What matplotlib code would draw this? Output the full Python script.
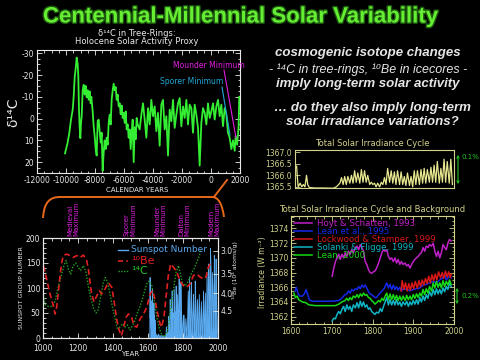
import matplotlib
matplotlib.use('Agg')
import matplotlib.pyplot as plt
from matplotlib.path import Path
from matplotlib.patches import PathPatch
from matplotlib.ticker import MultipleLocator, FixedLocator, NullLocator, FixedFormatter
import matplotlib.patheffects as pe

plt.rcParams['axes.unicode_minus'] = False
plt.rcParams['font.family'] = ['DejaVu Sans']

# ---------------- data ----------------
# Holocene delta-14C (permil), plotted inverted
holo_year = [-10069, -9885, -9770, -9655, -9540, -9470, -9402, -9333, -9264, -9195, -9150, -9104, -9058, -9011,
             -8965, -8920, -8850, -8780, -8712, -8643, -8575, -8505, -8437, -8368, -8299, -8253, -8161, -8092,
             -8023, -7954, -7885, -7816, -7747, -7678, -7609, -7540, -7471, -7402, -7333, -7264, -7195, -7126,
             -7057, -6988, -6919, -6850, -6781, -6712, -6643, -6574, -6505, -6436, -6367, -6298, -6229, -6160,
             -6091, -6022, -5953, -5884, -5815, -5747, -5678, -5609, -5540, -5471, -5402, -5333, -5264, -5195,
             -5126, -5057, -4919, -4804, -4689, -4574, -4459, -4344, -4229, -4114, -3999, -3884, -3770, -3655,
             -3540, -3425, -3310, -3195, -3080, -2965, -2850, -2735, -2620, -2505, -2390, -2275, -2160, -2045,
             -1930, -1815, -1700, -1586, -1471, -1356, -1241, -1126, -1011, -896, -781, -666, -551, -436, -321,
             -206, -91, 24, 139, 254, 369, 484, 598, 714, 828, 943, 1058, 1173, 1288, 1403, 1518, 1633, 1700,
             1800, 1900, 1950]
holo_d14c = [16, 11, 6.5, 0.5, -4, -10, -19, -23, -28, -25, -19, -4, 4, 9,
             2, -1, -13, -15.5, -11, -15, -9.8, -13, -8.6, -12.5, -7, -10, -3.3, 3.5,
             8, 14, 17, 1.2, 0.5, 5.8, 11, 6.5, 24, 15.6, 10, 14, 8.8, 12,
             2, -1.8, 2.7, -8.6, -13, -16, -13, -14.5, -8.6, -11, -5.6, -7, -2, -6,
             -0.3, -2.6, 2, -3.3, 5, 2.7, 8.8, 5, 14, 6.5, 0.5, 20, 4, 9.5,
             -0.3, 2.7, 5, -1.8, -7, 0.5, 8.8, -4.8, 2.7, -8.6, -1.1, -5.6, 5.8, -2.6,
             12.5, -6.4, -8.6, 5, -1.1, 17, -4.1, 1.2, -8.6, 4.3, -1.8, -7, -9.4, 3.5,
             -5.6, -0.3, -8.6, 2.7, -6.4, -4.8, 6.5, -6.4, -1.8, 4.3, 21.6, 2, -4.8, -2.6, 2.7,
             -7, -0.3, -3.3, -7, 0.45, -5.6, -8.6, -1.1, -6.4, 3.5, -4.8, -1.8, 6.5, 8.8, 14, 10, 14.8, 8,
             12, 4, -10]

# Total solar irradiance cycle (W m-2)
tsi_year = [1604, 1606, 1608, 1613, 1617, 1621, 1625, 1629, 1632, 1636, 1650, 1670, 1696, 1704, 1713,
            1717, 1721, 1725, 1729, 1733, 1738, 1742, 1746, 1750, 1754, 1758, 1763, 1767, 1771, 1775,
            1779, 1783, 1788, 1792, 1796, 1800, 1804, 1808, 1813, 1817, 1821, 1825, 1829, 1833, 1838,
            1842, 1846, 1850, 1854, 1858, 1863, 1867, 1871, 1875, 1879, 1883, 1888, 1892, 1896, 1900,
            1904, 1908, 1913, 1917, 1921, 1925, 1929, 1933, 1938, 1942, 1946, 1950, 1954, 1958, 1963,
            1967, 1971, 1975, 1979, 1983, 1988, 1992, 1996]
tsi_val = [1366.4, 1365.9, 1365.5, 1365.66, 1365.5, 1365.6, 1365.5, 1366.0, 1365.6, 1365.47, 1365.45,
           1365.45, 1365.44, 1365.5, 1365.66, 1365.9, 1365.6, 1365.95, 1365.6, 1365.95, 1365.66, 1366.0,
           1365.66, 1366.2, 1365.7, 1366.1, 1365.66, 1366.25, 1365.7, 1366.2, 1365.7, 1366.0, 1365.6,
           1365.7, 1365.6, 1365.66, 1365.5, 1365.66, 1365.5, 1365.7, 1365.6, 1365.9, 1365.6, 1366.3,
           1365.7, 1366.2, 1365.66, 1366.15, 1365.6, 1366.2, 1365.6, 1366.15, 1365.6, 1365.95, 1365.56,
           1366.1, 1365.56, 1365.95, 1365.5, 1366.2, 1365.6, 1366.2, 1365.6, 1366.25, 1365.66, 1366.3,
           1365.66, 1366.25, 1365.7, 1366.35, 1365.7, 1366.44, 1365.7, 1366.6, 1365.66, 1366.3, 1365.7,
           1366.7, 1365.7, 1366.6, 1365.66, 1366.7, 1365.6]

# Irradiance reconstructions (W m-2)
hs_year = [1701, 1705, 1709, 1713, 1717, 1721, 1725, 1729, 1733, 1737, 1741, 1745, 1749, 1753, 1758, 1762,
           1766, 1770, 1774, 1778, 1782, 1786, 1790, 1794, 1798, 1802, 1806, 1810, 1815, 1819, 1823, 1827,
           1831, 1835, 1839, 1843, 1847, 1851, 1855, 1859, 1863, 1867, 1871, 1875, 1880, 1884, 1888, 1892,
           1896, 1900, 1904, 1908, 1912, 1916, 1920, 1924, 1928, 1932, 1936, 1940, 1945, 1949, 1953, 1957,
           1961, 1965, 1969, 1973, 1977, 1981, 1985, 1989, 1993]
hs_val = [1367.5, 1368.6, 1369.5, 1370.0, 1370.5, 1369.8, 1370.5, 1370.0, 1370.7, 1370.2, 1370.9, 1370.5,
          1371.1, 1370.7, 1371.4, 1371.6, 1371.1, 1371.8, 1371.4, 1370.9, 1369.5, 1369.1, 1368.4, 1368.0,
          1367.9, 1368.1, 1368.2, 1368.6, 1369.3, 1370.0, 1370.7, 1371.1, 1370.9, 1371.1, 1370.2, 1369.8,
          1370.0, 1369.5, 1370.0, 1369.3, 1369.8, 1369.1, 1369.5, 1369.1, 1369.3, 1368.9, 1369.1, 1368.6,
          1369.1, 1369.5, 1369.8, 1370.0, 1370.2, 1370.5, 1370.7, 1371.4, 1370.9, 1371.6, 1371.4, 1371.8,
          1371.6, 1372.0, 1370.9, 1370.2, 1370.9, 1370.0, 1370.7, 1371.8, 1371.4, 1371.1, 1372.0, 1372.5,
          1372.3]

lean95_year = [1610, 1613, 1617, 1621, 1628, 1633, 1637, 1641, 1645, 1652, 1668, 1684, 1701, 1717, 1725,
               1729, 1733, 1737, 1741, 1745, 1749, 1753, 1758, 1762, 1766, 1770, 1774, 1778, 1782, 1786,
               1790, 1794, 1798, 1802, 1806, 1810, 1815, 1819, 1823, 1827, 1831, 1835, 1839, 1843, 1847,
               1851, 1855, 1859, 1863, 1867, 1871, 1875, 1884, 1892, 1900, 1908, 1916, 1924, 1932, 1940,
               1949, 1957, 1965, 1973, 1977, 1981, 1989, 1993]
lean95_val = [1365.5, 1366.0, 1365.2, 1364.8, 1364.8, 1365.1, 1365.7, 1365.0, 1364.3, 1364.1, 1364.1,
              1364.1, 1364.1, 1364.2, 1364.5, 1364.8, 1365.0, 1365.1, 1365.5, 1365.2, 1365.7, 1365.5,
              1365.8, 1365.7, 1366.1, 1365.8, 1366.3, 1366.0, 1366.3, 1365.9, 1365.4, 1365.1, 1365.0,
              1364.8, 1364.6, 1364.6, 1365.0, 1365.2, 1365.5, 1365.7, 1366.1, 1366.6, 1365.9, 1366.4,
              1365.7, 1366.3, 1365.7, 1366.1, 1365.6, 1366.0, 1365.5, 1365.8, 1365.7, 1365.5, 1365.7,
              1365.8, 1365.9, 1366.3, 1366.4, 1366.6, 1366.8, 1366.6, 1367.0, 1367.3, 1367.7, 1367.0,
              1367.5, 1367.3]

lock_year = [1870, 1873, 1877, 1881, 1885, 1889, 1893, 1897, 1901, 1905, 1910, 1914, 1918, 1922, 1926,
             1930, 1934, 1938, 1942, 1946, 1950, 1954, 1958, 1962, 1967, 1971, 1975, 1979, 1983, 1987,
             1991, 1993]
lock_val = [1365.5, 1366.9, 1365.7, 1366.6, 1365.5, 1366.5, 1365.6, 1366.6, 1365.8, 1366.8, 1365.9,
            1366.9, 1366.1, 1367.0, 1366.3, 1367.2, 1366.5, 1367.5, 1366.6, 1367.7, 1366.9, 1367.8,
            1367.0, 1368.1, 1367.3, 1368.0, 1367.2, 1368.2, 1367.4, 1368.1, 1367.3, 1367.8]

sol_year = [1701, 1705, 1709, 1713, 1717, 1721, 1725, 1729, 1733, 1737, 1741, 1745, 1749, 1753, 1758,
            1762, 1766, 1770, 1774, 1778, 1782, 1786, 1790, 1794, 1798, 1802, 1806, 1810, 1815, 1819,
            1823, 1827, 1831, 1835, 1839, 1843, 1847, 1851, 1855, 1859, 1863, 1867, 1871, 1875, 1880,
            1884, 1888, 1892, 1896, 1900, 1904, 1908, 1912, 1916, 1920, 1924, 1928, 1932, 1936, 1940,
            1945, 1949, 1953, 1957, 1961, 1965, 1969, 1973, 1977, 1981, 1985, 1989, 1993]
sol_val = [1361.4, 1361.8, 1361.7, 1362.3, 1362.7, 1362.4, 1363.0, 1363.4, 1362.7, 1363.6, 1363.0, 1363.4,
           1362.7, 1363.6, 1363.2, 1363.9, 1363.2, 1364.1, 1363.4, 1364.0, 1363.3, 1363.6, 1363.0, 1363.2,
           1362.7, 1362.5, 1362.3, 1362.6, 1362.5, 1363.1, 1362.7, 1363.4, 1364.0, 1364.6, 1363.6, 1364.3,
           1363.6, 1364.2, 1363.6, 1364.3, 1363.6, 1364.0, 1363.4, 1364.0, 1363.6, 1364.1, 1363.4, 1364.0,
           1363.6, 1364.2, 1363.7, 1364.3, 1363.7, 1364.6, 1364.0, 1364.8, 1364.2, 1365.0, 1364.5, 1365.4,
           1364.8, 1365.7, 1365.0, 1365.8, 1365.1, 1365.7, 1365.1, 1365.9, 1365.4, 1366.1, 1365.7, 1366.6,
           1366.1]

lean00_year = [1607, 1611, 1615, 1619, 1628, 1636, 1644, 1660, 1676, 1693, 1709, 1717, 1725, 1733, 1737,
               1741, 1745, 1749, 1753, 1758, 1762, 1766, 1770, 1774, 1778, 1782, 1786, 1790, 1794, 1798,
               1802, 1806, 1810, 1815, 1819, 1823, 1827, 1831, 1835, 1839, 1843, 1847, 1851, 1855, 1859,
               1863, 1867, 1871, 1875, 1880, 1884, 1888, 1892, 1896, 1900, 1904, 1908, 1912, 1916, 1920,
               1924, 1928, 1932, 1936, 1940, 1945, 1949, 1953, 1957, 1961, 1965, 1969, 1973, 1977, 1981,
               1985, 1989, 1993]
lean00_val = [1365.2, 1364.6, 1364.8, 1364.3, 1364.0, 1363.9, 1363.6, 1363.5, 1363.5, 1363.5, 1363.5,
              1363.7, 1364.0, 1364.2, 1364.5, 1364.2, 1364.6, 1364.3, 1364.8, 1364.6, 1365.0, 1364.6,
              1365.1, 1364.8, 1365.2, 1364.9, 1365.0, 1364.6, 1364.5, 1364.2, 1364.0, 1363.7, 1363.9,
              1364.2, 1364.0, 1364.5, 1364.2, 1364.8, 1365.2, 1364.3, 1365.1, 1364.3, 1365.0, 1364.3,
              1364.9, 1364.2, 1364.8, 1364.2, 1364.8, 1364.2, 1364.9, 1364.3, 1364.8, 1364.3, 1365.0,
              1364.5, 1365.1, 1364.6, 1365.2, 1364.8, 1365.7, 1365.0, 1365.8, 1365.2, 1366.1, 1365.5,
              1366.6, 1365.9, 1366.8, 1366.0, 1366.6, 1365.9, 1366.9, 1366.1, 1366.8, 1366.3, 1367.0,
              1366.4]

recon_labels = ['Hoyt & Schatten, 1993', 'Lean et al., 1995', 'Lockwood & Stamper, 1999',
                'Solanki & Fligge, 1999', 'Lean, 2000']

# Sunspot group number
sun_year = [1610, 1611, 1612, 1613, 1614, 1615, 1617, 1618, 1620, 1621, 1623, 1624, 1625, 1626, 1628, 1629,
            1630, 1632, 1634, 1635, 1637, 1639, 1640, 1642, 1645, 1648, 1652, 1656, 1660, 1665, 1670, 1675,
            1680, 1684, 1688, 1692, 1696, 1700, 1703, 1705, 1707, 1710, 1713, 1716, 1718, 1720, 1722, 1724,
            1727, 1729, 1731, 1733, 1735, 1737, 1738, 1740, 1742, 1744, 1746, 1748, 1750, 1752, 1754, 1755,
            1757, 1759, 1761, 1763, 1765, 1766, 1768, 1769, 1771, 1773, 1775, 1776, 1778, 1780, 1782, 1784,
            1786, 1788, 1790, 1792, 1795, 1798, 1801, 1803, 1805, 1807, 1810, 1812, 1814, 1816, 1818, 1821,
            1823, 1825, 1827, 1830, 1832, 1834, 1836, 1837, 1839, 1841, 1843, 1845, 1847, 1848, 1850, 1852,
            1854, 1856, 1858, 1860, 1862, 1864, 1867, 1869, 1870, 1872, 1874, 1876, 1878, 1880, 1883, 1885,
            1887, 1889, 1891, 1893, 1895, 1898, 1901, 1903, 1905, 1907, 1910, 1913, 1915, 1917, 1919, 1921,
            1923, 1925, 1928, 1930, 1933, 1935, 1937, 1939, 1941, 1944, 1946, 1947, 1949, 1951, 1954, 1956,
            1957, 1959, 1961, 1964, 1966, 1968, 1970, 1972, 1976, 1978, 1979, 1981, 1983, 1986, 1988, 1989,
            1991, 1993, 1995]
sun_val = [0, 60, 121, 40, 84, 30, 60, 20, 50, 15, 75, 30, 97, 40, 60, 20,
           70, 35, 70, 25, 45, 10, 36, 8, 9, 2, 6, 0, 8, 2, 5, 0,
           6, 1, 4, 0, 3, 6, 2, 22, 8, 3, 12, 5, 43, 20, 35, 10,
           77, 40, 60, 10, 50, 30, 94, 50, 30, 5, 50, 40, 97, 60, 25, 8,
           50, 55, 104, 50, 20, 10, 70, 87, 55, 30, 8, 40, 118, 60, 50, 10,
           60, 111, 70, 45, 20, 5, 25, 35, 46, 20, 0, 8, 15, 39, 25, 5,
           2, 20, 50, 94, 30, 10, 80, 121, 70, 30, 8, 30, 70, 111, 60, 40,
           15, 5, 50, 87, 50, 40, 8, 60, 114, 80, 40, 10, 3, 30, 77, 40,
           10, 5, 30, 87, 60, 25, 3, 20, 73, 50, 15, 2, 40, 94, 60, 25,
           5, 40, 90, 35, 5, 30, 131, 90, 45, 8, 90, 148, 120, 70, 5, 120,
           179, 140, 50, 10, 50, 131, 100, 60, 12, 100, 165, 130, 60, 12, 110, 158,
           120, 50, 10]

# 10Be (10^4 atoms/g), right axis, inverted
be_year = [1002, 1021, 1040, 1059, 1069, 1078, 1088, 1097, 1107, 1116, 1135, 1154, 1173, 1193, 1212, 1231,
           1250, 1259, 1269, 1278, 1292, 1307, 1322, 1335, 1354, 1373, 1393, 1406, 1421, 1436, 1448, 1459,
           1474, 1488, 1507, 1520, 1535, 1554, 1574, 1593, 1612, 1627, 1640, 1654, 1669, 1678, 1692, 1703,
           1716, 1730, 1745, 1764, 1783, 1802, 1821, 1840, 1859, 1878, 1897, 1916, 1932, 1945, 1955]
be_val = [3.32, 3.63, 4.02, 4.35, 4.60, 4.40, 3.97, 3.55, 3.25, 3.10, 3.07, 3.10, 3.14, 3.10, 3.14, 3.09,
          3.21, 3.39, 3.72, 4.02, 4.24, 4.07, 3.93, 4.02, 3.89, 3.72, 3.84, 4.21, 4.77, 5.15, 5.33, 5.08,
          4.71, 4.60, 4.71, 4.98, 5.03, 4.77, 4.60, 4.40, 4.02, 3.93, 4.17, 4.55, 4.92, 5.03, 4.66, 4.11,
          3.55, 3.28, 3.35, 3.46, 3.68, 3.80, 3.84, 3.76, 3.55, 3.51, 3.58, 3.63, 3.58, 3.35, 3.28]

# 14C activity proxy, scaled to the sunspot-group axis
c14_year = [1000, 1002, 1012, 1031, 1050, 1069, 1088, 1107, 1120, 1132, 1145, 1158, 1173, 1187, 1202, 1215,
            1231, 1246, 1259, 1273, 1288, 1303, 1316, 1330, 1345, 1356, 1370, 1383, 1398, 1412, 1425, 1440,
            1455, 1469, 1482, 1497, 1513, 1526, 1539, 1554, 1570, 1583, 1596, 1608, 1621, 1634, 1650, 1665,
            1680, 1692, 1707, 1722, 1735, 1749, 1760, 1774, 1783, 1796, 1812, 1831, 1850, 1863, 1878, 1894,
            1900]
c14_val = [104, 87, 67, 63, 63, 73, 104, 128, 145, 155, 138, 128, 145, 150, 141, 135,
           145, 131, 104, 80, 60, 50, 57, 84, 111, 121, 111, 87, 60, 39, 19, 22,
           29, 22, 26, 16, 26, 36, 50, 63, 80, 97, 111, 114, 107, 77, 43, 19,
           5, 3, 9, 36, 73, 104, 131, 145, 131, 111, 104, 114, 131, 138, 151, 165,
           175]

period_labels = ['Medieval\nMaximum', 'Sporer\nMinimum', 'Maunder\nMinimum', 'Dalton\nMinimum',
                 'Modern\nMaximum']

# ---------------- figure ----------------
W, H = 480, 360
fig = plt.figure(figsize=(4.8, 3.6), dpi=100, facecolor='black')

def pax(x0, y0, x1, y1):
    a = fig.add_axes([x0 / W, 1 - y1 / H, (x1 - x0) / W, (y1 - y0) / H])
    a.set_facecolor('black')
    return a

def style(a, col, ls=5):
    for s in a.spines.values():
        s.set_color(col)
        s.set_linewidth(0.8)
    a.tick_params(which='both', direction='in', colors=col, labelsize=ls, top=True, right=True,
                  width=0.6, pad=2)
    a.tick_params(which='major', length=3.5)
    a.tick_params(which='minor', length=1.8)

WHITE = '#e8e8e8'
KHAKI = '#d2d28c'

# overlay in pixel coordinates
ov = fig.add_axes([0, 0, 1, 1], zorder=5)
ov.set_xlim(0, W)
ov.set_ylim(H, 0)
ov.axis('off')

# title
ov.text(240, 17, 'Centennial-Millennial Solar Variability', family='Liberation Sans', weight='bold',
        fontsize=16, color='#66ee33', ha='center', va='center',
        path_effects=[pe.withStroke(linewidth=2.0, foreground='#1d5a10')])

# ---- top-left: Holocene d14C ----
a1 = pax(37, 50, 240, 173)
a1.plot(holo_year, holo_d14c, color='#33ee33', lw=1.3)
a1.set_xlim(-12000, 2000)
a1.set_ylim(25, -31.5)
a1.xaxis.set_major_locator(MultipleLocator(2000))
a1.xaxis.set_minor_locator(MultipleLocator(500))
a1.yaxis.set_major_locator(MultipleLocator(10))
a1.yaxis.set_minor_locator(MultipleLocator(2.5))
style(a1, WHITE, 5.5)
a1.tick_params(labelright=False, labeltop=False)
ov.text(137, 33, 'δ¹⁴C in Tree-Rings:', color=WHITE, fontsize=6, ha='center', va='center')
ov.text(137, 42, 'Holocene Solar Activity Proxy', color=WHITE, fontsize=6, ha='center', va='center')
ov.text(137, 190, 'CALENDAR YEARS', color=WHITE, fontsize=5, ha='center', va='center')
ov.text(13, 112, 'δ¹⁴C', color=WHITE, fontsize=10, rotation=90, ha='center', va='center')
ov.text(173, 66, 'Mounder Minimum', color='#e020e0', fontsize=5.5, ha='left', va='center')
ov.plot([224, 236], [70, 138], color='#e020e0', lw=0.8)
ov.text(160, 82, 'Sporer Minimum', color='#20a8d8', fontsize=5.5, ha='left', va='center')
ov.plot([222, 230], [87, 135], color='#20a8d8', lw=0.8)

# ---- right text ----
RT = dict(family=['Liberation Sans', 'DejaVu Sans'], color='#e6e6e6', ha='center', va='center')
ov.text(368, 53, 'cosmogenic isotope changes', style='italic', weight='bold', fontsize=9.5, **RT)
ov.text(368, 70, '- ¹⁴C in tree-rings, ¹⁰Be in icecores -', style='italic', fontsize=9, **RT)
ov.text(368, 84, 'imply long-term solar activity', style='italic', weight='bold', fontsize=9.5, **RT)
ov.text(372, 108, '… do they also imply long-term', style='italic', weight='bold', fontsize=9.5, **RT)
ov.text(372, 122, 'solar irradiance variations?', style='italic', weight='bold', fontsize=9.5, **RT)

# ---- top-right: TSI cycle ----
a2 = pax(295, 150, 454, 188)
a2.plot(tsi_year, tsi_val, color='#e8e890', lw=0.9)
a2.set_xlim(1600, 2000)
a2.set_ylim(1365.45, 1367.1)
a2.yaxis.set_major_locator(MultipleLocator(0.5))
a2.yaxis.set_major_formatter(matplotlib.ticker.FormatStrFormatter('%.1f'))
a2.xaxis.set_major_locator(MultipleLocator(100))
style(a2, KHAKI, 5.5)
a2.tick_params(labelbottom=False, right=False, top=False, bottom=False)
ov.text(372, 143, 'Total Solar Irradiance Cycle', color=KHAKI, fontsize=6, ha='center', va='center')
ov.annotate('', xy=(458, 152), xytext=(458, 187),
            arrowprops=dict(arrowstyle='<->', color='#22c022', lw=0.8, mutation_scale=4))
ov.text(461, 157, '0.1%', color='#22c022', fontsize=5, ha='left', va='center')

# ---- bottom-right: reconstructions ----
a3 = pax(291, 216, 454, 324)
cols = ['#c020c8', '#1528e8', '#d81818', '#10b4c4', '#18d818']
for yr, vv, c, lab in zip([hs_year, lean95_year, lock_year, sol_year, lean00_year],
                          [hs_val, lean95_val, lock_val, sol_val, lean00_val], cols, recon_labels):
    a3.plot(yr, vv, color=c, lw=1.1, label=lab)
a3.set_xlim(1600, 2000)
a3.set_ylim(1361, 1375.7)
a3.xaxis.set_major_locator(MultipleLocator(100))
a3.xaxis.set_minor_locator(MultipleLocator(20))
a3.yaxis.set_major_locator(MultipleLocator(2))
a3.yaxis.set_minor_locator(MultipleLocator(0.5))
style(a3, KHAKI, 5.5)
a3.tick_params(labelright=False, labeltop=False)
leg = a3.legend(loc='upper left', frameon=False, prop={'size': 6.2}, handlelength=2.0,
                handletextpad=0.6, labelspacing=-0.12, borderpad=0.25, borderaxespad=0.15)
for t, c in zip(leg.get_texts(), cols):
    t.set_color(c)
ov.text(372, 209, 'Total Solar Irradiance Cycle and Background', color=KHAKI, fontsize=6,
        ha='center', va='center')
ov.text(262, 272, 'Irradiance (W m⁻²)', color=KHAKI, fontsize=5.5, rotation=90, ha='center', va='center')
ov.annotate('', xy=(457, 285), xytext=(457, 307),
            arrowprops=dict(arrowstyle='<->', color='#22c022', lw=0.8, mutation_scale=4))
ov.text(461, 296, '0.2%', color='#22c022', fontsize=5, ha='left', va='center')

# ---- bottom-left: last millennium ----
a4 = pax(43, 238, 218, 338)
a4.fill_between(sun_year, 0, sun_val, color='#5aaaf0', lw=0)
a4.plot(sun_year, sun_val, color='#5aaaf0', lw=0.6, label='Sunspot Number')
a4.plot(c14_year, c14_val, color='#22a022', lw=1.0, ls=(0, (1, 1.2)), label='¹⁴C')
a4.set_xlim(1000, 2000)
a4.set_ylim(0, 200)
a4.xaxis.set_major_locator(MultipleLocator(200))
a4.xaxis.set_minor_locator(MultipleLocator(50))
a4.yaxis.set_major_locator(MultipleLocator(50))
a4.yaxis.set_minor_locator(MultipleLocator(10))
style(a4, WHITE, 5.5)
a4.tick_params(right=False, labeltop=False)
a4.tick_params(axis='x', pad=4)
a4r = a4.twinx()
a4r.plot(be_year, be_val, color='#e02020', lw=1.2, ls=(0, (3.5, 2)))
a4r.set_yscale('log')
a4r.set_ylim(5.41, 2.753)
a4r.yaxis.set_major_locator(FixedLocator([3.0, 3.5, 4.0, 4.5]))
a4r.yaxis.set_major_formatter(FixedFormatter(['3.0', '3.5', '4.0', '4.5']))
a4r.yaxis.set_minor_locator(NullLocator())
for s in a4r.spines.values():
    s.set_color(WHITE)
    s.set_linewidth(0.8)
a4r.tick_params(which='both', direction='in', colors=WHITE, labelsize=5.5, width=0.6, length=3.5, pad=2)
ov.plot([118, 128], [250, 250], color='#5aaaf0', lw=1)
ov.text(131, 250, 'Sunspot Number', color='#5aaaf0', fontsize=6.5, ha='left', va='center')
ov.plot([118, 128], [261, 261], color='#e02020', lw=1.2, ls=(0, (3, 2)))
ov.text(131, 261, '¹⁰Be', color='#e02020', fontsize=8, ha='left', va='center')
ov.plot([118, 128], [271, 271], color='#22a022', lw=1, ls=(0, (1, 1)))
ov.text(131, 271, '¹⁴C', color='#22c022', fontsize=8, ha='left', va='center')
ov.text(22, 288, 'SUNSPOT GROUP NUMBER', color=WHITE, fontsize=4.5, rotation=90, ha='center', va='center')
ov.text(130, 354, 'YEAR', color=WHITE, fontsize=5, ha='center', va='center')
ov.text(235, 270, '¹⁰Be (10⁴ atoms/g)', color=WHITE, fontsize=4.5, rotation=90, ha='center', va='center')

# period labels
for xp, lab in zip([73.5, 130, 160, 184, 214.5], period_labels):
    ov.text(xp, 236, lab, color='#e020e0', fontsize=5, rotation=90, ha='center', va='bottom',
            linespacing=1.05, multialignment='left')

# orange bracket
OR = '#e8681a'
verts = [(43, 218), (44, 202), (50, 197), (60, 197),
         (212, 197),
         (218, 197), (222, 203), (224, 217)]
codes = [Path.MOVETO, Path.CURVE4, Path.CURVE4, Path.CURVE4,
         Path.LINETO,
         Path.CURVE4, Path.CURVE4, Path.CURVE4]
ov.add_patch(PathPatch(Path(verts, codes), fill=False, edgecolor=OR, lw=1.4))
ov.plot([214, 227], [197, 180], color=OR, lw=1.4)

fig.savefig('out.png', dpi=100, facecolor='black')
